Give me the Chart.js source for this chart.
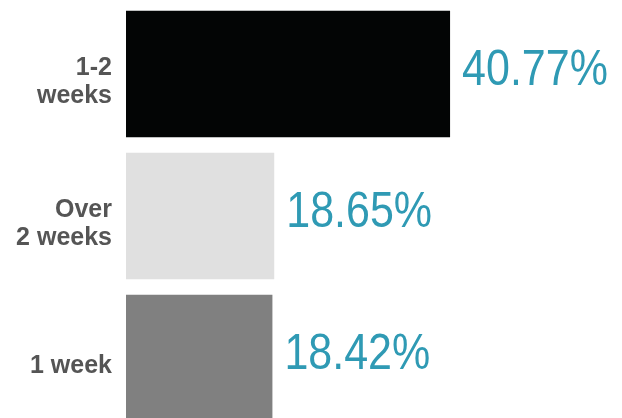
<!DOCTYPE html>
<html>
<head>
<meta charset="utf-8">
<script src="https://cdn.jsdelivr.net/npm/chart.js@4"></script>
<style>
  html, body { margin: 0; padding: 0; background: #fff; overflow: hidden; }
  #wrap { width: 622px; height: 432px; }
</style>
</head>
<body>
<div id="wrap"><canvas id="chart"></canvas></div>
<script>
  const categories = [["1-2", "weeks"], ["Over", "2 weeks"], ["1 week"]];
  const shares = [40.77, 18.65, 18.42];
  const barColors = ["#030505", "#e0e0e0", "#808080"];

  // draws the percentage to the right of each bar (squeezed to look condensed)
  const valueLabels = {
    id: "valueLabels",
    afterDatasetsDraw(chart) {
      const ctx = chart.ctx;
      const meta = chart.getDatasetMeta(0);
      meta.data.forEach((bar, i) => {
        ctx.save();
        ctx.translate(bar.x + 12, bar.y - 3);
        ctx.scale(0.86, 1);
        ctx.font = "50px 'Liberation Sans', sans-serif";
        ctx.fillStyle = "#2f9ab4";
        ctx.textAlign = "left";
        ctx.textBaseline = "middle";
        ctx.fillText(shares[i].toFixed(2) + "%", 0, 0);
        ctx.restore();
      });
    }
  };

  new Chart(document.getElementById("chart"), {
    type: "bar",
    data: {
      labels: categories,
      datasets: [{
        data: shares,
        backgroundColor: barColors,
        barPercentage: 0.89,
        categoryPercentage: 1
      }]
    },
    options: {
      indexAxis: "y",
      responsive: true,
      maintainAspectRatio: false,
      animation: false,
      layout: { padding: { top: 3, bottom: 3, left: 0, right: 0 } },
      plugins: { legend: { display: false }, tooltip: { enabled: false } },
      scales: {
        x: { display: false, min: 0, max: 62.4 },
        y: {
          afterFit(scale) {
            scale.width = 126;
            scale.paddingTop = 0;
            scale.paddingBottom = 0;
          },
          grid: { display: false },
          border: { display: false },
          ticks: {
            padding: 6,
            labelOffset: 8,
            color: "#555555",
            font: { family: "'Liberation Sans', sans-serif", size: 25, weight: "bold", lineHeight: 1.12 }
          }
        }
      }
    },
    plugins: [valueLabels]
  });
</script>
</body>
</html>
